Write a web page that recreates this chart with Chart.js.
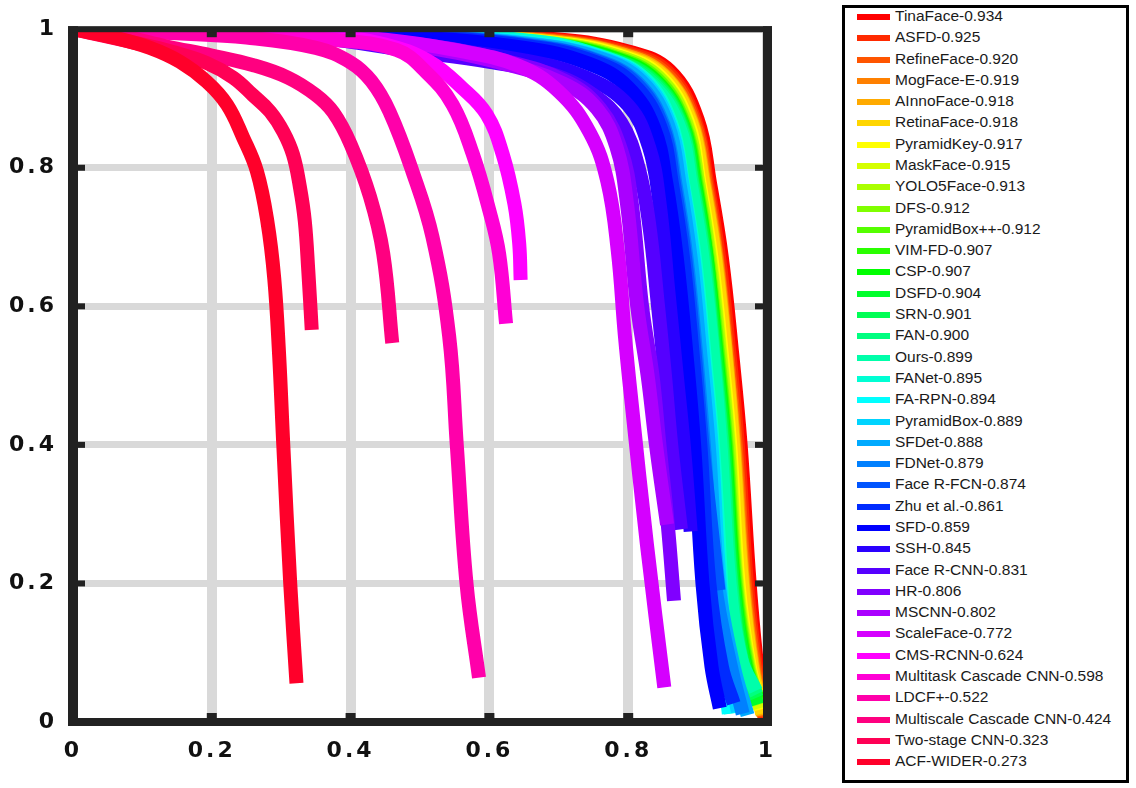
<!DOCTYPE html>
<html lang="en">
<head>
    <meta charset="UTF-8">
    <title>WIDER FACE hard set - precision / recall</title>
    <script src="https://cdn.jsdelivr.net/npm/chart.js"></script>
    <style>
        body { margin: 0; background: #fff; }
        #wrap { position: absolute; left: 0; top: 0; width: 1136px; height: 788px; }
        #legend {
            position: absolute; left: 842px; top: 5px; width: 287px; height: 778px;
            box-sizing: border-box; border: 3px solid #000; background: #fff;
        }
        #legend .item { position: absolute; left: 0; height: 20px; width: 280px; }
        #legend .swatch { position: absolute; left: 12px; top: 7px; width: 33px; height: 6px; }
        #legend .label {
            position: absolute; left: 50px; top: 0; line-height: 20px; white-space: nowrap;
            font: 15.5px "Liberation Sans", Arial, sans-serif; color: #1a1a1a;
        }
    </style>
</head>
<body>
    <div id="wrap"><canvas id="prCanvas"></canvas></div>
    <div id="legend"></div>

    <script>
        // methods in legend order, with their AP on the hard set
        const methodNames = ['TinaFace', 'ASFD', 'RefineFace', 'MogFace-E', 'AInnoFace', 'RetinaFace',
            'PyramidKey', 'MaskFace', 'YOLO5Face', 'DFS', 'PyramidBox++', 'VIM-FD', 'CSP', 'DSFD',
            'SRN', 'FAN', 'Ours', 'FANet', 'FA-RPN', 'PyramidBox', 'SFDet', 'FDNet', 'Face R-FCN',
            'Zhu et al.', 'SFD', 'SSH', 'Face R-CNN', 'HR', 'MSCNN', 'ScaleFace', 'CMS-RCNN',
            'Multitask Cascade CNN', 'LDCF+', 'Multiscale Cascade CNN', 'Two-stage CNN', 'ACF-WIDER'];
        const apValues = ['0.934', '0.925', '0.920', '0.919', '0.918', '0.918', '0.917', '0.915',
            '0.913', '0.912', '0.912', '0.907', '0.907', '0.904', '0.901', '0.900', '0.899', '0.895',
            '0.894', '0.889', '0.888', '0.879', '0.874', '0.861', '0.859', '0.845', '0.831', '0.806',
            '0.802', '0.772', '0.624', '0.598', '0.522', '0.424', '0.323', '0.273'];

        const axisTicks = [0, 0.2, 0.4, 0.6, 0.8, 1];

        // [recall, precision] points
        const prTinaFace = [[0,1],[0.5,0.995],[0.7,0.985],[0.8,0.968],[0.86,0.94],[0.9,0.87],[0.918,0.777],[0.935,0.67],[0.95,0.53],[0.962,0.4],[0.975,0.2],[0.986,0.08],[0.998,0.003]];
        const prASFD = [[0,1],[0.498,0.9945],[0.697,0.984],[0.797,0.9665],[0.857,0.938],[0.896,0.869],[0.914,0.777],[0.931,0.67],[0.946,0.53],[0.958,0.4],[0.971,0.2],[0.984,0.08],[0.997,0.005]];
        const prRefineFace = [[0,1],[0.497,0.994],[0.695,0.983],[0.794,0.965],[0.854,0.936],[0.894,0.868],[0.912,0.777],[0.928,0.67],[0.943,0.53],[0.955,0.4],[0.968,0.2],[0.982,0.08],[0.996,0.008]];
        const prMogFace = [[0,1],[0.496,0.9935],[0.694,0.982],[0.793,0.9635],[0.852,0.934],[0.892,0.867],[0.91,0.777],[0.927,0.67],[0.941,0.53],[0.953,0.4],[0.966,0.2],[0.98,0.08],[0.995,0.01]];
        const prAInnoFace = [[0,1],[0.495,0.9935],[0.693,0.982],[0.792,0.9635],[0.851,0.934],[0.891,0.867],[0.909,0.777],[0.926,0.67],[0.941,0.53],[0.952,0.4],[0.965,0.2],[0.979,0.08],[0.994,0.01]];
        const prRetinaFace = [[0,1],[0.495,0.993],[0.692,0.981],[0.791,0.962],[0.851,0.932],[0.89,0.866],[0.908,0.777],[0.925,0.67],[0.94,0.53],[0.951,0.4],[0.964,0.2],[0.978,0.08],[0.993,0.012]];
        const prPyramidKey = [[0,1],[0.492,0.993],[0.689,0.981],[0.787,0.962],[0.846,0.932],[0.886,0.866],[0.903,0.777],[0.92,0.67],[0.935,0.53],[0.947,0.4],[0.959,0.2],[0.975,0.08],[0.991,0.018]];
        const prMaskFace = [[0,1],[0.491,0.9925],[0.687,0.98],[0.786,0.9605],[0.845,0.93],[0.884,0.865],[0.901,0.777],[0.918,0.67],[0.933,0.53],[0.945,0.4],[0.957,0.2],[0.974,0.08],[0.99,0.02]];
        const prYOLO5Face = [[0,1],[0.491,0.9925],[0.687,0.98],[0.785,0.9605],[0.844,0.93],[0.883,0.865],[0.901,0.777],[0.917,0.67],[0.932,0.53],[0.944,0.4],[0.956,0.2],[0.973,0.08],[0.989,0.025]];
        const prDFS = [[0,1],[0.49,0.992],[0.685,0.979],[0.783,0.959],[0.842,0.928],[0.881,0.864],[0.899,0.777],[0.915,0.67],[0.93,0.53],[0.942,0.4],[0.955,0.2],[0.972,0.08],[0.988,0.03]];
        const prPyramidBoxPP = [[0,1],[0.489,0.992],[0.685,0.979],[0.782,0.959],[0.841,0.928],[0.88,0.864],[0.898,0.777],[0.914,0.67],[0.929,0.53],[0.941,0.4],[0.954,0.2],[0.971,0.08],[0.987,0.03]];
        const prVIMFD = [[0,1],[0.489,0.9915],[0.684,0.978],[0.782,0.9575],[0.84,0.926],[0.879,0.863],[0.897,0.777],[0.913,0.67],[0.928,0.53],[0.94,0.4],[0.953,0.2],[0.97,0.08],[0.987,0.032]];
        const prCSP = [[0,1],[0.488,0.9915],[0.683,0.978],[0.781,0.9575],[0.839,0.926],[0.878,0.863],[0.896,0.777],[0.913,0.67],[0.927,0.53],[0.939,0.4],[0.952,0.2],[0.969,0.08],[0.986,0.034]];
        const prDSFD = [[0,1],[0.488,0.991],[0.683,0.977],[0.78,0.956],[0.839,0.924],[0.878,0.862],[0.895,0.777],[0.912,0.67],[0.926,0.53],[0.938,0.4],[0.951,0.2],[0.968,0.08],[0.986,0.025]];
        const prSRN = [[0,1],[0.487,0.991],[0.681,0.977],[0.778,0.956],[0.837,0.924],[0.876,0.862],[0.893,0.777],[0.91,0.67],[0.924,0.53],[0.936,0.4],[0.949,0.2],[0.966,0.08],[0.985,0.035]];
        const prFAN = [[0,1],[0.486,0.9905],[0.68,0.976],[0.778,0.9545],[0.836,0.922],[0.875,0.861],[0.892,0.777],[0.909,0.67],[0.923,0.53],[0.935,0.4],[0.948,0.2],[0.965,0.08],[0.985,0.04]];
        const prOurs = [[0,1],[0.485,0.99],[0.679,0.975],[0.776,0.953],[0.834,0.92],[0.873,0.86],[0.89,0.777],[0.907,0.67],[0.922,0.53],[0.933,0.4],[0.946,0.2],[0.963,0.09],[0.984,0.045]];
        const prFANet = [[0,1],[0.479,0.992],[0.671,0.982],[0.766,0.959],[0.824,0.928],[0.862,0.864],[0.879,0.777],[0.896,0.67],[0.91,0.53],[0.922,0.4],[0.934,0.2],[0.94,0.08],[0.948,0.012]];
        const prFARPN = [[0,1],[0.478,0.9918],[0.669,0.9785],[0.764,0.958],[0.821,0.927],[0.86,0.8635],[0.877,0.777],[0.893,0.67],[0.907,0.53],[0.919,0.4],[0.931,0.2],[0.937,0.08],[0.945,0.012]];
        const prPyramidBox = [[0,1],[0.478,0.9915],[0.669,0.978],[0.765,0.9575],[0.822,0.926],[0.86,0.863],[0.878,0.777],[0.894,0.67],[0.908,0.53],[0.92,0.4],[0.932,0.2],[0.945,0.08],[0.958,0.015]];
        const prSFDet = [[0,1],[0.476,0.991],[0.666,0.9775],[0.762,0.957],[0.819,0.925],[0.857,0.8625],[0.874,0.777],[0.89,0.67],[0.904,0.53],[0.916,0.4],[0.93,0.2],[0.952,0.08],[0.972,0.01]];
        const prFDNet = [[0,1],[0.473,0.9908],[0.662,0.9765],[0.756,0.955],[0.813,0.923],[0.851,0.8615],[0.868,0.777],[0.884,0.67],[0.898,0.53],[0.909,0.4],[0.925,0.2],[0.948,0.08],[0.965,0.012]];
        const prFaceRFCN = [[0,1],[0.472,0.9905],[0.66,0.976],[0.754,0.9545],[0.811,0.922],[0.849,0.861],[0.866,0.777],[0.882,0.67],[0.896,0.53],[0.907,0.4],[0.92,0.28],[0.93,0.19]];
        const prZhu = [[0,1],[0.47,0.99],[0.658,0.975],[0.752,0.953],[0.808,0.92],[0.846,0.86],[0.863,0.777],[0.879,0.67],[0.893,0.53],[0.904,0.4],[0.917,0.2],[0.935,0.08],[0.952,0.027]];
        const prSFD = [[0,1],[0.465,0.989],[0.651,0.973],[0.744,0.95],[0.8,0.916],[0.837,0.858],[0.855,0.777],[0.87,0.67],[0.884,0.53],[0.895,0.4],[0.907,0.2],[0.92,0.08],[0.932,0.02]];
        const prSSH = [[0,1],[0.3,0.995],[0.5,0.975],[0.65,0.955],[0.74,0.93],[0.8,0.89],[0.83,0.83],[0.845,0.75],[0.858,0.62],[0.87,0.5],[0.88,0.4],[0.89,0.275]];
        const prFaceRCNN = [[0,1],[0.3,0.993],[0.5,0.967],[0.6,0.953],[0.69,0.935],[0.75,0.905],[0.79,0.865],[0.815,0.8],[0.83,0.72],[0.843,0.6],[0.853,0.5],[0.862,0.4],[0.876,0.278]];
        const prHR = [[0,1],[0.3,0.995],[0.5,0.978],[0.62,0.955],[0.71,0.925],[0.76,0.885],[0.79,0.825],[0.805,0.75],[0.82,0.6],[0.835,0.5],[0.845,0.4],[0.857,0.285],[0.866,0.175]];
        const prMSCNN = [[0,1],[0.3,0.995],[0.5,0.975],[0.61,0.953],[0.706,0.922],[0.755,0.885],[0.783,0.83],[0.798,0.75],[0.813,0.6],[0.828,0.5],[0.84,0.4],[0.856,0.285]];
        const prScaleFace = [[0,1],[0.3,0.995],[0.45,0.985],[0.55,0.97],[0.64,0.948],[0.7,0.91],[0.745,0.85],[0.77,0.78],[0.785,0.68],[0.795,0.56],[0.805,0.46],[0.827,0.256],[0.852,0.05]];
        const prCMSRCNN = [[0,1],[0.2,0.997],[0.37,0.99],[0.45,0.978],[0.514,0.953],[0.561,0.915],[0.596,0.877],[0.619,0.82],[0.636,0.748],[0.643,0.69],[0.645,0.638]];
        const prMultitask = [[0,1],[0.2,0.995],[0.37,0.985],[0.466,0.97],[0.509,0.938],[0.547,0.891],[0.576,0.82],[0.6,0.738],[0.614,0.676],[0.624,0.575]];
        const prLDCF = [[0,1],[0.15,0.994],[0.25,0.988],[0.35,0.973],[0.4,0.952],[0.43,0.925],[0.456,0.881],[0.489,0.795],[0.518,0.7],[0.542,0.557],[0.553,0.4],[0.567,0.2],[0.585,0.064]];
        const prMultiscale = [[0,1],[0.07,0.99],[0.135,0.975],[0.2,0.962],[0.26,0.948],[0.31,0.93],[0.35,0.905],[0.375,0.88],[0.4,0.834],[0.428,0.758],[0.447,0.676],[0.46,0.547]];
        const prTwoStage = [[0,1],[0.086,0.981],[0.144,0.967],[0.193,0.951],[0.231,0.93],[0.259,0.905],[0.284,0.881],[0.303,0.852],[0.317,0.819],[0.327,0.772],[0.334,0.723],[0.339,0.652],[0.344,0.566]];
        const prACF = [[0,1],[0.063,0.987],[0.111,0.973],[0.154,0.953],[0.193,0.924],[0.222,0.891],[0.245,0.844],[0.265,0.795],[0.28,0.723],[0.29,0.64],[0.297,0.53],[0.303,0.4],[0.313,0.2],[0.322,0.056]];

        const prCurves = [prTinaFace, prASFD, prRefineFace, prMogFace, prAInnoFace, prRetinaFace,
            prPyramidKey, prMaskFace, prYOLO5Face, prDFS, prPyramidBoxPP, prVIMFD, prCSP, prDSFD,
            prSRN, prFAN, prOurs, prFANet, prFARPN, prPyramidBox, prSFDet, prFDNet, prFaceRFCN,
            prZhu, prSFD, prSSH, prFaceRCNN, prHR, prMSCNN, prScaleFace, prCMSRCNN, prMultitask,
            prLDCF, prMultiscale, prTwoStage, prACF];

        // hsv colour wheel, one step per method
        function curveColor(i) {
            return 'hsl(' + (i * 360 / methodNames.length) + ', 100%, 50%)';
        }

        // html legend, built from the same arrays
        function buildLegend() {
            const box = document.getElementById('legend');
            methodNames.forEach((name, i) => {
                const row = document.createElement('div');
                row.className = 'item';
                row.style.top = (-1 + i * 21.29) + 'px';
                const sw = document.createElement('div');
                sw.className = 'swatch';
                sw.style.background = curveColor(i);
                const txt = document.createElement('div');
                txt.className = 'label';
                txt.textContent = name + '-' + apValues[i];
                row.appendChild(sw);
                row.appendChild(txt);
                box.appendChild(row);
            });
        }

        // thick box around the axes with inward tick marks
        const framePlugin = {
            id: 'frame',
            beforeDraw(chart) {
                chart.ctx.letterSpacing = '3px';
            },
            afterDatasetsDraw(chart) {
                const ctx = chart.ctx;
                const a = chart.chartArea;
                const xs = chart.scales.x, ys = chart.scales.y;
                ctx.save();
                ctx.fillStyle = '#222';
                axisTicks.slice(1, -1).forEach(v => {
                    const px = xs.getPixelForValue(v);
                    const py = ys.getPixelForValue(v);
                    ctx.fillRect(px - 5, a.bottom - 9, 10, 9);
                    ctx.fillRect(px - 5, a.top, 10, 8);
                    ctx.fillRect(a.left, py - 3, 12, 6);
                    ctx.fillRect(a.right - 12, py - 3, 12, 6);
                });
                ctx.fillRect(a.left - 5, a.top - 3, 10, a.bottom - a.top + 7);
                ctx.fillRect(a.right - 4, a.top - 3, 9, a.bottom - a.top + 7);
                ctx.fillRect(a.left - 5, a.top - 3, a.right - a.left + 10, 6);
                ctx.fillRect(a.left - 5, a.bottom - 4, a.right - a.left + 10, 8);
                ctx.restore();
            }
        };

        function tickLabel(v) {
            return String(Math.round(v * 10) / 10);
        }

        function plotCurves() {
            const ctx = document.getElementById('prCanvas').getContext('2d');
            const n = prCurves.length;
            const tickFont = { family: 'DejaVu Sans', weight: 'bold', size: 22 };
            new Chart(ctx, {
                type: 'line',
                data: {
                    datasets: prCurves.map((pts, i) => ({
                        label: methodNames[i] + '-' + apValues[i],
                        data: pts.map(p => ({ x: p[0], y: p[1] })),
                        borderColor: curveColor(i),
                        backgroundColor: curveColor(i),
                        borderWidth: 14,
                        borderJoinStyle: 'round',
                        borderCapStyle: 'butt',
                        pointRadius: 0,
                        tension: 0.4,
                        fill: false,
                        clip: 0,
                        order: n - 1 - i
                    }))
                },
                options: {
                    responsive: true,
                    maintainAspectRatio: false,
                    animation: false,
                    events: [],
                    layout: { padding: { left: 0, top: 24, right: 369, bottom: 0 } },
                    plugins: { legend: { display: false }, tooltip: { enabled: false } },
                    scales: {
                        x: {
                            type: 'linear',
                            min: 0,
                            max: 1,
                            afterFit: s => { s.height = 66; },
                            afterBuildTicks: s => { s.ticks = axisTicks.map(v => ({ value: v })); },
                            ticks: { font: tickFont, color: '#111', padding: 16, maxRotation: 0, callback: tickLabel },
                            grid: { color: '#d9d9d9', lineWidth: 10, drawTicks: false },
                            border: { display: false }
                        },
                        y: {
                            type: 'linear',
                            min: 0,
                            max: 1,
                            afterFit: s => { s.width = 73; },
                            afterBuildTicks: s => { s.ticks = axisTicks.map(v => ({ value: v })); },
                            ticks: { font: tickFont, color: '#111', padding: 16, callback: tickLabel },
                            grid: { color: '#d9d9d9', lineWidth: 7, drawTicks: false },
                            border: { display: false }
                        }
                    }
                },
                plugins: [framePlugin]
            });
        }

        document.addEventListener('DOMContentLoaded', () => {
            buildLegend();
            plotCurves();
        });
    </script>
</body>
</html>
